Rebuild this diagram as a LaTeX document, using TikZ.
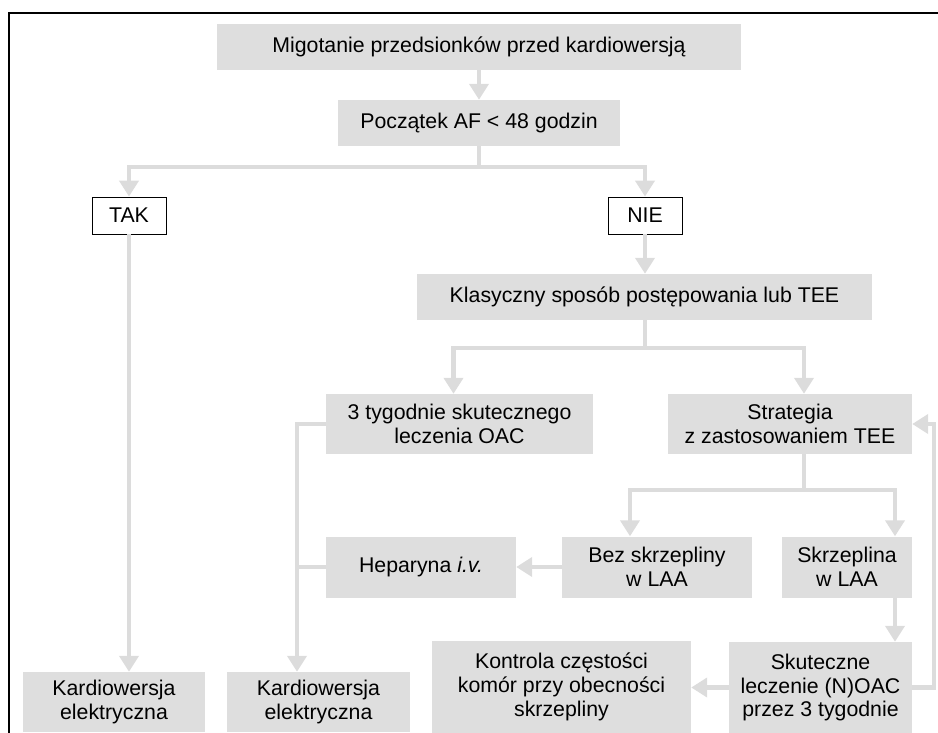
\documentclass[tikz,border=0pt]{standalone}
\usepackage{fontspec}
\setmainfont{Liberation Sans}
\usetikzlibrary{arrows.meta, positioning}
\definecolor{boxgray}{RGB}{222,222,222}
\definecolor{linegray}{RGB}{220,220,220}

\begin{document}
\begin{tikzpicture}[x=1pt,y=-1pt,>={Triangle[width=19pt,length=16pt]},font=\fontsize{21.3}{23.7}\selectfont]
	\tikzset{box/.style={fill=boxgray,align=center,inner sep=0pt},
		yesno/.style={draw=black,fill=white,line width=0.8pt,minimum width=74pt,minimum height=37pt,inner sep=0pt},
		con/.style={->,draw=linegray,line width=4.3pt}}
	\useasboundingbox (0,0) rectangle (938,733);
	\draw[line width=1.2pt] (9,733) -- (9,13) -- (938,13);
	\node[box, minimum width=524pt, minimum height=46pt] (mig) at (479,47) {Migotanie przedsionków przed kardiowersją};
	\node[box, minimum width=282pt, minimum height=46pt] (poc) at (479,123) {Początek AF < 48 godzin};
	\node[yesno] (tak) at (129,215.5) {TAK};
	\node[yesno] (nie) at (645,215.5) {NIE};
	\node[box, minimum width=455pt, minimum height=46pt] (klas) at (644.5,297) {Klasyczny sposób postępowania lub TEE};
	\node[box, minimum width=267pt, minimum height=60pt] (tyg) at (459.5,424) {3 tygodnie skutecznego\\leczenia OAC};
	\node[box, minimum width=244pt, minimum height=60pt] (strat) at (790,424) {Strategia\\z zastosowaniem TEE};
	\node[box, minimum width=190pt, minimum height=61pt] (bez) at (657,567) {Bez skrzepliny\\w LAA};
	\node[box, minimum width=130pt, minimum height=61pt] (skrz) at (847,567) {Skrzeplina\\w LAA};
	\node[box, minimum width=190pt, minimum height=61pt] (hep) at (421,567) {Heparyna \textit{i.v.}};
	\node[box, minimum width=182pt, minimum height=60pt] (kard1) at (114,702) {Kardiowersja\\elektryczna};
	\node[box, minimum width=183pt, minimum height=60pt] (kard2) at (318.5,702) {Kardiowersja\\elektryczna};
	\node[box, minimum width=259pt, minimum height=92pt] (kontr) at (561.5,687) {Kontrola częstości\\komór przy obecności\\skrzepliny};
	\node[box, minimum width=183pt, minimum height=91pt] (skut) at (820.5,687.5) {Skuteczne\\leczenie (N)OAC\\przez 3 tygodnie};
	\coordinate (s1) at (479,167);
	\coordinate (s2) at (645,348);
	\coordinate (s3) at (804,490);
	\coordinate (s4) at (297,424);
	\draw[con] (mig) -- (poc);
	\draw[con] (poc.south) -- (s1) -| (tak.north);
	\draw[con] (s1) -| (nie.north);
	\draw[con] (nie.south) -- (nie.south |- klas.north);
	\draw[con] (klas.south -| s2) -- (s2) -| ([xshift=-6pt]tyg.north);
	\draw[con] (s2) -| ([xshift=14pt]strat.north);
	\draw[con] ([xshift=14pt]strat.south) -- (s3) -| ([xshift=-27pt]bez.north);
	\draw[con] (s3) -| ([xshift=48pt]skrz.north);
	\draw[con] ([xshift=48pt]skrz.south) -- ([xshift=48pt]skrz.south |- skut.north);
	\draw[con] (bez.west) -- (hep.east);
	\draw[con] (skut.west) -- (skut.west -| kontr.east);
	\draw[con] (skut.east) -- ++(22,0) |- (strat.east);
	\draw[con] (tak.south) -- (tak.south |- kard1.north);
	\draw[con] (tyg.west) -- (s4) -- (s4 |- kard2.north);
	\draw[con,-] (hep.west) -- (hep.west -| s4);
\end{tikzpicture}
\end{document}
